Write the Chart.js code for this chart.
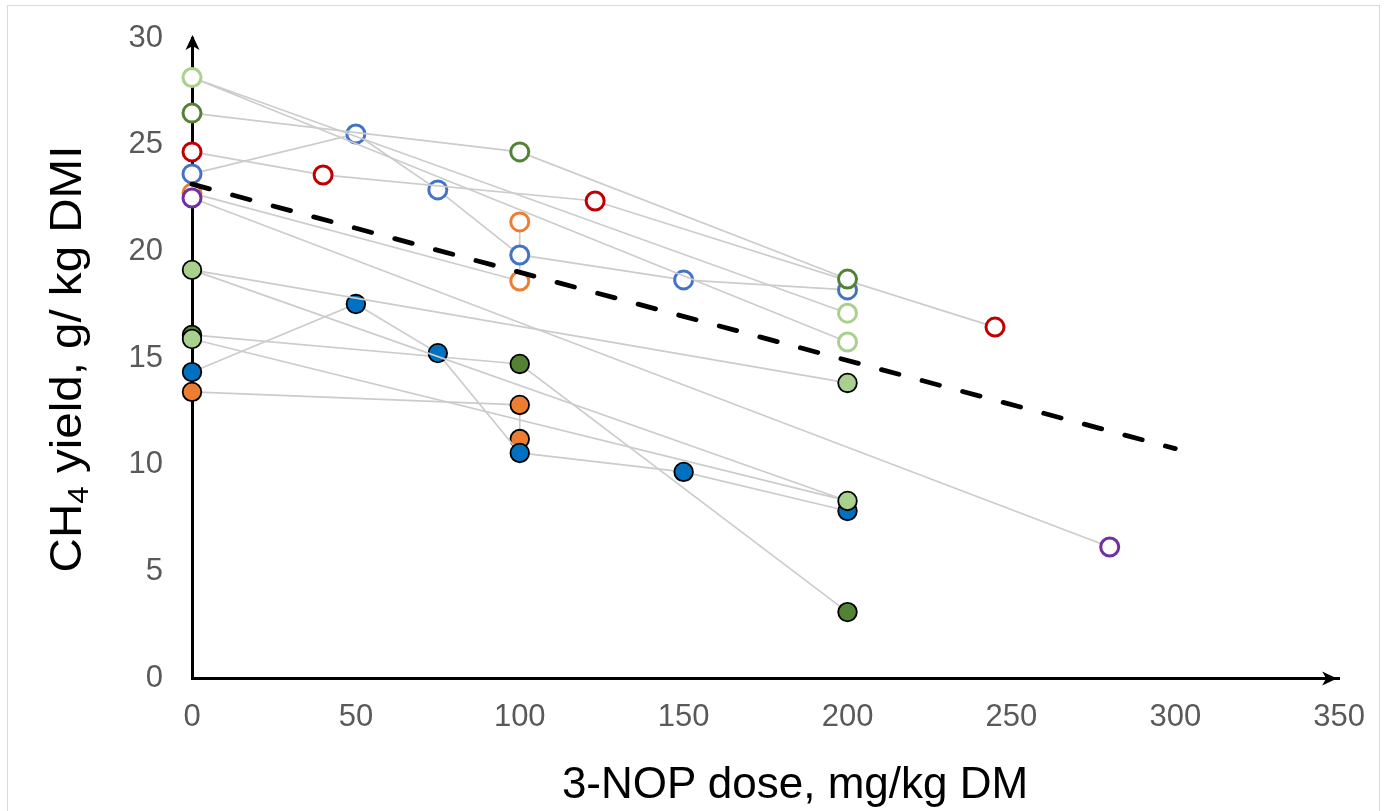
<!DOCTYPE html>
<html>
<head>
<meta charset="utf-8">
<script src="https://cdn.jsdelivr.net/npm/chart.js@4.4.0/dist/chart.umd.min.js"></script>
<style>
  body { margin: 0; background: #fff; }
  #wrap { position: relative; width: 1386px; height: 811px; overflow: hidden; }
  #frame { position: absolute; left: 7px; top: 5px; width: 1373px; height: 830px; border: 1px solid #d9d9d9; box-sizing: border-box; }
  canvas { position: absolute; left: 0; top: 0; }
  .axis-title { position: absolute; font-family: "Liberation Sans", Arial, sans-serif; font-size: 44px; line-height: 44px; color: #000; white-space: nowrap; text-align: center; }
  #ytitle { width: 600px; height: 44px; left: -234px; top: 337px; transform: rotate(-90deg) scaleX(1.08); }
  #ytitle sub { font-size: 29px; line-height: 0; vertical-align: -7px; }
  #xtitle { width: 600px; height: 44px; left: 495px; top: 761px; }
</style>
</head>
<body>
<div id="wrap">
  <div id="frame"></div>
  <canvas id="chart" width="1386" height="811"></canvas>
  <div class="axis-title" id="ytitle">CH<sub>4</sub> yield, g/ kg DMI</div>
  <div class="axis-title" id="xtitle">3-NOP dose, mg/kg DM</div>
</div>
<script>
// dose (mg/kg DM), CH4 yield (g/kg DMI) for each study, in plotting order
const lightGreenOpen = [[200, 17.1], [0, 28.15], [200, 15.75]];
const darkGreenOpen = [[0, 26.48], [100, 24.66], [200, 18.7]];
const redOpen = [[0, 24.66], [40, 23.58], [123, 22.36], [245, 16.45]];
const blueOpen = [[0, 23.63], [50, 25.5], [75, 22.88], [100, 19.83], [150, 18.66], [200, 18.19]];
const orangeOpen = [[0, 22.73], [100, 18.61], [100, 21.38]];
const purpleOpen = [[0, 22.5], [280, 6.14]];

const lightGreenFilled = [[200, 13.83], [0, 19.13], [200, 8.3], [0, 15.89]];
const darkGreenFilled = [[0, 16.08], [100, 14.72], [200, 3.09]];
const blueFilled = [[0, 14.34], [50, 17.53], [75, 15.23], [100, 10.55], [150, 9.66], [200, 7.83]];
const orangeFilled = [[0, 13.41], [100, 12.8], [100, 11.2]];

const trendLine = [[0, 23.15], [300, 10.75]];

const xTicks = [0, 50, 100, 150, 200, 250, 300, 350];
const yTicks = [0, 5, 10, 15, 20, 25, 30];

const FONT = '"Liberation Sans", Arial, sans-serif';
const LINK = '#cccccc';

function study(label, pts, color, filled) {
    return {
        label,
        data: pts.map(p => ({ x: p[0], y: p[1] })),
        showLine: true,
        borderColor: LINK,
        borderWidth: 1.7,
        pointRadius: filled ? 9.3 : 9,
        pointBackgroundColor: filled ? color : '#fff',
        pointBorderColor: filled ? '#000' : color,
        pointBorderWidth: filled ? 1.8 : 3,
        clip: false
    };
}

// black arrow heads at the far ends of both axes
const axisArrows = {
    id: 'axisArrows',
    afterDraw(chart) {
        const { ctx, chartArea: a } = chart;
        const x0 = a.left + 0.5, y0 = a.bottom + 0.5;
        ctx.save();
        ctx.fillStyle = '#000';
        ctx.beginPath();
        ctx.moveTo(x0, a.top - 3);
        ctx.lineTo(x0 - 7, a.top + 12);
        ctx.lineTo(x0, a.top + 8);
        ctx.lineTo(x0 + 7, a.top + 12);
        ctx.closePath();
        ctx.fill();
        ctx.beginPath();
        ctx.moveTo(a.right - 2, y0);
        ctx.lineTo(a.right - 17, y0 - 7);
        ctx.lineTo(a.right - 13, y0);
        ctx.lineTo(a.right - 17, y0 + 7);
        ctx.closePath();
        ctx.fill();
        ctx.restore();
    }
};

new Chart(document.getElementById('chart'), {
    type: 'scatter',
    data: {
        datasets: [
            {
                label: 'trend',
                data: trendLine.map(p => ({ x: p[0], y: p[1] })),
                showLine: true,
                borderColor: '#000',
                borderWidth: 4.8,
                borderDash: [18, 24],
                borderCapStyle: 'round',
                pointRadius: 0,
                clip: false
            },
            study('purple', purpleOpen, '#7030a0', false),
            study('lightGreenFilled', lightGreenFilled, '#a9d18e', true),
            study('blueFilled', blueFilled, '#0070c0', true),
            study('orangeFilled', orangeFilled, '#ed7d31', true),
            study('darkGreenFilled', darkGreenFilled, '#548235', true),
            study('lightGreenOpen', lightGreenOpen, '#a9d18e', false),
            study('darkGreenOpen', darkGreenOpen, '#548235', false),
            study('redOpen', redOpen, '#c00000', false),
            study('blueOpen', blueOpen, '#4472c4', false),
            study('orangeOpen', orangeOpen, '#ed7d31', false)
        ]
    },
    options: {
        responsive: false,
        animation: false,
        devicePixelRatio: 1,
        layout: { padding: { top: 38, right: 43, bottom: 0, left: 0 } },
        plugins: { legend: { display: false }, tooltip: { enabled: false } },
        scales: {
            x: {
                type: 'linear', min: 0, max: 350,
                afterBuildTicks: s => { s.ticks = xTicks.map(v => ({ value: v })); },
                afterFit: s => { s.height = 133; },
                grid: { display: false, drawTicks: false },
                border: { color: '#000', width: 3 },
                ticks: { color: '#595959', font: { family: FONT, size: 31 }, padding: 21 }
            },
            y: {
                type: 'linear', min: 0, max: 30,
                afterBuildTicks: s => { s.ticks = yTicks.map(v => ({ value: v })); },
                afterFit: s => { s.width = 192; s.paddingTop = 0; s.paddingBottom = 0; },
                grid: { display: false, drawTicks: false },
                border: { color: '#000', width: 3 },
                ticks: { color: '#595959', font: { family: FONT, size: 31 }, padding: 29 }
            }
        }
    },
    plugins: [axisArrows]
});
</script>
</body>
</html>
